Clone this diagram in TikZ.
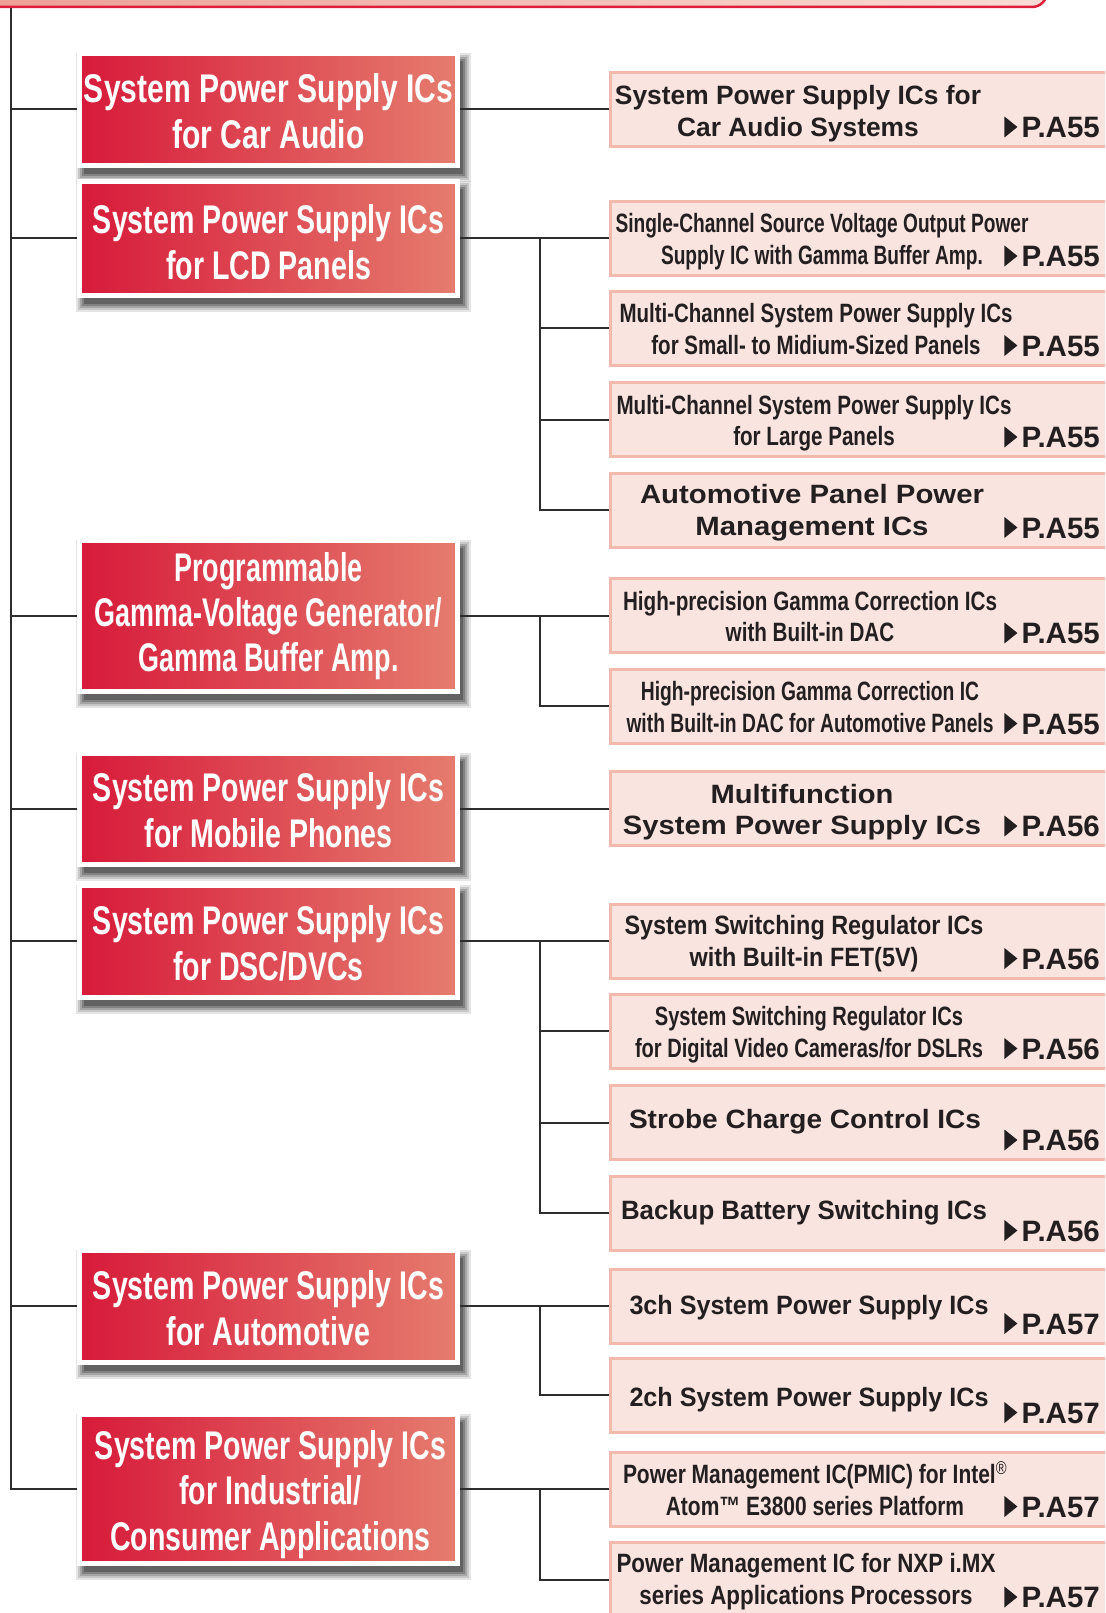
\documentclass[tikz,border=0pt]{standalone}
\usepackage{fontspec}
\setmainfont{Liberation Sans}
\usepackage{graphicx}
\usetikzlibrary{calc}

\definecolor{redL}{RGB}{215,26,58}
\definecolor{redR}{RGB}{229,124,110}
\definecolor{pinkF}{RGB}{249,228,223}
\definecolor{pinkB}{RGB}{242,185,173}
\definecolor{txt}{RGB}{35,31,32}
\definecolor{lineC}{RGB}{45,45,45}
\definecolor{bandL}{RGB}{236,158,148}
\definecolor{bandR}{RGB}{248,220,213}
\definecolor{bandB}{RGB}{222,30,58}

\newcommand\fitw[2]{\resizebox{#1pt}{\height}{\begin{tabular}[b]{@{}c@{}}#2\end{tabular}}}
\newcommand\boxshadow[2]{%
  \foreach \e/\o in {6/0.10,4/0.13,2/0.17,0/0.21,-2/0.24}{%
    \fill[black,opacity=\o] ({82-\e},{#1-#2/2+5.5-\e}) rectangle ({465+\e},{#1+#2/2+10.5+\e});
  }}

\tikzset{
  redbox/.style={draw=white, line width=5pt, left color=redL, right color=redR,
    minimum width=378pt, minimum height=#1pt, inner sep=0pt},
  pbox/.style={draw=pinkB, fill=pinkF, line width=3pt, minimum width=501pt,
    minimum height=74pt, inner sep=0pt},
  wtxt/.style={text=white, inner sep=0pt, anchor=base,
    font=\fontsize{40}{46}\selectfont\bfseries},
  rtxt/.style={text=txt, inner sep=0pt, anchor=base,
    font=\fontsize{26.5}{31.5}\selectfont\bfseries},
  pg/.style={text=txt, inner sep=0pt, anchor=base east,
    font=\fontsize{29.5}{32}\selectfont\bfseries},
  conn/.style={draw=lineC, line width=2pt},
}

\begin{document}
\begin{tikzpicture}[x=1pt,y=-1pt]
\useasboundingbox (0,0) rectangle (1105,1613);
\clip (0,0) rectangle (1105,1613);
\fill[white] (0,0) rectangle (1105,1613);

% top band
\fill[left color=bandL, right color=bandR, rounded corners=15pt] (-40,-40) -- (-40,7) -- (1047,7) -- (1047,-40) -- cycle;
\draw[bandB, line width=2.5pt, rounded corners=15pt] (-40,7) -- (1047,7) -- (1047,-40);

% ---------- left red boxes ----------
\boxshadow{109.5}{112}
\node[redbox=112] (L1) at (268.5,109.5) {};
\boxshadow{238.5}{113}
\node[redbox=113] (L2) at (268.5,238.5) {};
\boxshadow{615.5}{151}
\node[redbox=151] (L3) at (268.5,615.5) {};
\boxshadow{808.5}{111}
\node[redbox=111] (L4) at (268.5,808.5) {};
\boxshadow{941}{112}
\node[redbox=112] (L5) at (268.5,941) {};
\boxshadow{1306}{112}
\node[redbox=112] (L6) at (268.5,1306) {};
\boxshadow{1489}{149}
\node[redbox=149] (L7) at (268.5,1489) {};

\node[wtxt] (L1t) at (268.5,148.5) {\fitw{369}{System Power Supply ICs\\for Car Audio}};
\node[wtxt] (L2t) at (268.5,279.5) {\fitw{351}{System Power Supply ICs\\for LCD Panels}};
\node[wtxt, font=\fontsize{40}{45}\selectfont\bfseries] (L3t) at (268.5,671) {\fitw{347}{Programmable\\Gamma-Voltage Generator/\\Gamma Buffer Amp.}};
\node[wtxt] (L4t) at (268.5,847.5) {\fitw{351}{System Power Supply ICs\\for Mobile Phones}};
\node[wtxt] (L5t) at (268.5,980) {\fitw{351}{System Power Supply ICs\\for DSC/DVCs}};
\node[wtxt] (L6t) at (268.5,1345) {\fitw{351}{System Power Supply ICs\\for Automotive}};
\node[wtxt, font=\fontsize{40}{45.5}\selectfont\bfseries] (L7t) at (270.5,1550) {\fitw{351}{System Power Supply ICs\\for Industrial/\\Consumer Applications}};

% ---------- right boxes ----------
\node[pbox] (R1) at (861,109.5) {};
\node[pbox] (R2) at (861,238.5) {};
\node[pbox] (R3) at (861,328) {};
\node[pbox] (R4) at (861,419.5) {};
\node[pbox] (R5) at (861,510) {};
\node[pbox] (R6) at (861,615.5) {};
\node[pbox] (R7) at (861,706) {};
\node[pbox] (R8) at (861,808.5) {};
\node[pbox] (R9) at (861,941) {};
\node[pbox] (R10) at (861,1031) {};
\node[pbox] (R11) at (861,1122.5) {};
\node[pbox] (R12) at (861,1213) {};
\node[pbox] (R13) at (861,1306) {};
\node[pbox] (R14) at (861,1395) {};
\node[pbox] (R15) at (861,1489) {};
\node[pbox] (R16) at (861,1579.5) {};

\node[rtxt] (R1t) at (798,136.5) {\fitw{366}{System Power Supply ICs for\\Car Audio Systems}};
\node[rtxt] (R2t) at (822,264) {\fitw{413}{Single-Channel Source Voltage Output Power\\Supply IC with Gamma Buffer Amp.}};
\node[rtxt] (R3t) at (816,354) {\fitw{393}{Multi-Channel System Power Supply ICs\\for Small- to Midium-Sized Panels}};
\node[rtxt] (R4t) at (814,445.5) {\fitw{395}{Multi-Channel System Power Supply ICs\\for Large Panels}};
\node[rtxt] (R5t) at (812,535) {\fitw{344}{Automotive Panel Power\\Management ICs}};
\node[rtxt] (R6t) at (810,641.5) {\fitw{374}{High-precision Gamma Correction ICs\\with Built-in DAC}};
\node[rtxt] (R7t) at (810,732) {\fitw{367}{High-precision Gamma Correction IC\\with Built-in DAC for Automotive Panels}};
\node[rtxt] (R8t) at (802,834.5) {\fitw{358}{Multifunction\\System Power Supply ICs}};
\node[rtxt] (R9t) at (804,966) {\fitw{359}{System Switching Regulator ICs\\with Built-in FET(5V)}};
\node[rtxt] (R10t) at (809,1057) {\fitw{348}{System Switching Regulator ICs\\for Digital Video Cameras/for DSLRs}};
\node[rtxt] (R11t) at (805,1128.5) {\fitw{352}{Strobe Charge Control ICs}};
\node[rtxt] (R12t) at (804,1219.5) {\fitw{366}{Backup Battery Switching ICs}};
\node[rtxt] (R13t) at (809,1314.5) {\fitw{359}{3ch System Power Supply ICs}};
\node[rtxt] (R14t) at (809,1406.5) {\fitw{359}{2ch System Power Supply ICs}};
\node[rtxt] (R15t) at (815,1515) {\fitw{384}{Power Management IC(PMIC) for Intel\textsuperscript{\mdseries\textregistered}\\Atom™ E3800 series Platform}};
\node[rtxt] (R16t) at (806,1604) {\fitw{379}{Power Management IC for NXP i.MX\\series Applications Processors}};

% page labels with triangles
\foreach \r/\p in {R1/55,R2/55,R3/55,R4/55,R5/55,R6/55,R7/55,R8/56,R9/56,R10/56,R11/56,R12/56,R13/57,R14/57,R15/57,R16/57}{
  \node[pg] (\r p) at ($(\r.center)+(239,28)$) {P.A\p};
  \fill[txt] (\r p.base west) ++(-17,-21) -- ++(13,10.5) -- ++(-13,10.5) -- cycle;
}

% ---------- connectors ----------
\coordinate (ttop) at (11,8);
\coordinate (bx) at (540,0);
\draw[conn] (ttop) |- (L7.west);
\foreach \n in {L1,L2,L3,L4,L5,L6}{
  \draw[conn] (\n.west) -- (\n.west -| ttop);
}
\draw[conn] (L1.east) -- (R1.west);
\draw[conn] (L4.east) -- (R8.west);
% LCD group
\draw[conn] (L2.east) -- (R2.west);
\draw[conn] (L2.east -| bx) |- (R5.west);
\draw[conn] (R3.west -| bx) -- (R3.west);
\draw[conn] (R4.west -| bx) -- (R4.west);
% gamma group
\draw[conn] (L3.east) -- (R6.west);
\draw[conn] (L3.east -| bx) |- (R7.west);
% DSC group
\draw[conn] (L5.east) -- (R9.west);
\draw[conn] (L5.east -| bx) |- (R12.west);
\draw[conn] (R10.west -| bx) -- (R10.west);
\draw[conn] (R11.west -| bx) -- (R11.west);
% automotive group
\draw[conn] (L6.east) -- (R13.west);
\draw[conn] (L6.east -| bx) |- (R14.west);
% industrial group
\draw[conn] (L7.east) -- (R15.west);
\draw[conn] (L7.east -| bx) |- (R16.west);
\end{tikzpicture}
\end{document}
